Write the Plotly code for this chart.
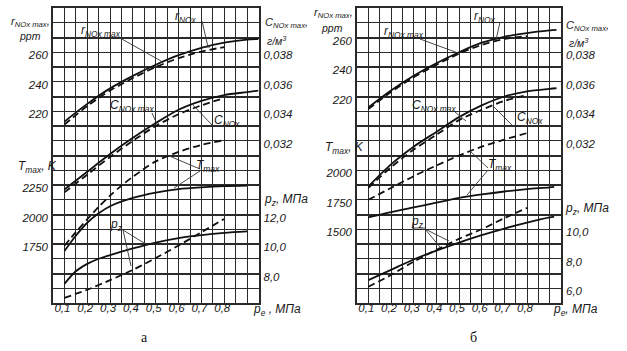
import plotly.graph_objects as go

W, H = 627, 351

# ---------------- data: panel "а" ----------------
pe_a_full = [0.1, 0.2, 0.3, 0.4, 0.5, 0.6, 0.7, 0.8, 0.9, 0.95]
pe_a_short = [0.1, 0.2, 0.3, 0.4, 0.5, 0.6, 0.7, 0.8]
r_a_max = [213, 225, 235.5, 244, 251.5, 258, 263, 266.5, 268.5, 269]
r_a = [211, 223.5, 234, 242.5, 250, 256, 260.5, 263.5]
c_a_max = [0.0287, 0.0299, 0.0311, 0.0322, 0.0332, 0.0341, 0.0347, 0.0351, 0.0353, 0.0354]
c_a = [0.0285, 0.0297, 0.0309, 0.0320, 0.0330, 0.0338, 0.0344, 0.0349]
pe_a_t_solid = [0.1, 0.15, 0.2, 0.25, 0.3, 0.4, 0.5, 0.6, 0.7, 0.8, 0.9]
t_a_solid = [1690, 1820, 1930, 2010, 2070, 2140, 2185, 2215, 2230, 2240, 2245]
pe_a_t_dash = [0.1, 0.15, 0.2, 0.25, 0.3, 0.35, 0.4, 0.5, 0.6, 0.7, 0.8]
t_a_dash = [1735, 1850, 1960, 2065, 2160, 2245, 2320, 2450, 2530, 2590, 2630]
pe_a_pz_solid = [0.1, 0.15, 0.2, 0.25, 0.3, 0.4, 0.5, 0.6, 0.7, 0.8, 0.9]
pz_a_solid = [7.3, 8.15, 8.65, 9.0, 9.25, 9.7, 10.1, 10.4, 10.6, 10.75, 10.85]
pz_a_dash = [6.35, 6.9, 7.55, 8.25, 9.05, 9.9, 10.8, 11.7]

# ---------------- data: panel "б" ----------------
pe_b_full = [0.1, 0.2, 0.3, 0.4, 0.5, 0.6, 0.7, 0.8, 0.9, 0.93]
pe_b_short = [0.1, 0.2, 0.3, 0.4, 0.5, 0.6, 0.7, 0.8]
r_b_max = [212.5, 224, 234, 242.5, 250, 256.5, 260.5, 263, 264.8, 265.2]
r_b = [211.5, 223, 233, 241.5, 249, 255, 259, 261]
c_b_max = [0.0289, 0.0304, 0.0316, 0.0326, 0.0336, 0.0344, 0.0350, 0.03535, 0.03552, 0.03556]
c_b = [0.0288, 0.0302, 0.0314, 0.0324, 0.0334, 0.0341, 0.0347, 0.0351]
pe_b_t = [0.1, 0.2, 0.3, 0.4, 0.5, 0.6, 0.7, 0.8, 0.9, 0.92]
t_b_solid = [1600, 1645, 1685, 1725, 1765, 1795, 1820, 1840, 1855, 1860]
t_b_dash = [1750, 1850, 1950, 2040, 2125, 2200, 2260, 2315]
pz_b_solid = [6.55, 7.25, 7.95, 8.55, 9.1, 9.6, 10.05, 10.45, 10.8, 10.85]
pz_b_dash = [6.1, 6.9, 7.8, 8.6, 9.35, 10.0, 10.75, 11.45]

# ---------------- tick labels ----------------
pe_ticks = [0.1, 0.2, 0.3, 0.4, 0.5, 0.6, 0.7, 0.8]
pe_text = ["0,1", "0,2", "0,3", "0,4", "0,5", "0,6", "0,7", "0,8"]
r_ticks = [220, 240, 260]
c_ticks = [0.032, 0.034, 0.036, 0.038]
c_text = ["0,032", "0,034", "0,036", "0,038"]
t_ticks_a = [1750, 2000, 2250]
t_ticks_b = [1500, 1750, 2000]
pz_ticks_a = [8, 10, 12]
pz_text_a = ["8,0", "10,0", "12,0"]
pz_ticks_b = [6, 8, 10]
pz_text_b = ["6,0", "8,0", "10,0"]

FAM = "Liberation Sans, Arial, sans-serif"
TFONT = dict(family=FAM, size=11.5, color="#1a1a1a", style="italic")
LFONT = dict(family=FAM, size=12, color="#1a1a1a", style="italic")
HFONT = dict(family=FAM, size=11, color="#1a1a1a", style="italic")
SFONT = dict(family=FAM, size=10.5, color="#1a1a1a", style="italic")
GRIDC = "#2a2a2a"
INK = "#111111"


def px(x):
    return x / W


def py(y):
    return 1 - y / H


XD_A = [px(53), px(258.5)]
XD_B = [px(357), px(561)]
YD = [py(303), py(8)]

fig = go.Figure()


def add(x, y, xa, ya, dash):
    fig.add_trace(go.Scatter(
        x=x, y=y, xaxis=xa, yaxis=ya, mode="lines", showlegend=False, hoverinfo="skip",
        line=dict(color=INK, width=1.8, shape="spline", smoothing=0.8,
                  dash="7px,4px" if dash else "solid")))


# panel a
add(pe_a_full, r_a_max, "x", "y", False)
add(pe_a_short, r_a, "x", "y", True)
add(pe_a_full, c_a_max, "x", "y2", False)
add(pe_a_short, c_a, "x", "y2", True)
add(pe_a_t_solid, t_a_solid, "x", "y3", False)
add(pe_a_t_dash, t_a_dash, "x", "y3", True)
add(pe_a_pz_solid, pz_a_solid, "x", "y4", False)
add(pe_a_short, pz_a_dash, "x", "y4", True)
# panel b
add(pe_b_full, r_b_max, "x2", "y6", False)
add(pe_b_short, r_b, "x2", "y6", True)
add(pe_b_full, c_b_max, "x2", "y7", False)
add(pe_b_short, c_b, "x2", "y7", True)
add(pe_b_t, t_b_solid, "x2", "y8", False)
add(pe_b_short, t_b_dash, "x2", "y8", True)
add(pe_b_t, pz_b_solid, "x2", "y9", False)
add(pe_b_short, pz_b_dash, "x2", "y9", True)
# grid-axis placeholders
for xa, ya in (("x", "y5"), ("x2", "y10")):
    fig.add_trace(go.Scatter(x=[None], y=[None], xaxis=xa, yaxis=ya, showlegend=False,
                             hoverinfo="skip", mode="lines"))

minor_x = [round(0.05 + 0.05 * i, 2) for i in range(19)]


def xaxis(domain, anchor):
    return dict(domain=domain, anchor=anchor, range=[0.05, 0.95], tickmode="array",
                tickvals=pe_ticks, ticktext=pe_text, tickfont=TFONT, ticks="",
                showgrid=True, gridcolor=GRIDC, gridwidth=1,
                minor=dict(tickvals=minor_x, showgrid=True, gridcolor=GRIDC, gridwidth=1, ticks=""),
                showline=True, mirror=True, linecolor=GRIDC, linewidth=1.5,
                zeroline=False, fixedrange=True, ticklabelstandoff=-7, ticklabelshift=-2)


def yaxis(rng, vals, text, side, anchor, overlay=None):
    d = dict(range=rng, tickmode="array", tickvals=vals, ticktext=text, side=side,
             anchor=anchor, tickfont=TFONT, ticks="", showgrid=False, zeroline=False,
             showline=False, fixedrange=True, ticklabelstandoff=4, ticklabelshift=3)
    if overlay:
        d["overlaying"] = overlay
    else:
        d["domain"] = YD
    return d


def gridaxis(anchor, overlay):
    return dict(range=[0, 20], overlaying=overlay, anchor=anchor, side="left",
                tickmode="linear", tick0=0, dtick=2, showticklabels=False, ticks="",
                showgrid=True, gridcolor=GRIDC, gridwidth=1.6,
                minor=dict(tickmode="linear", tick0=0, dtick=1, showgrid=True,
                           gridcolor=GRIDC, gridwidth=1, ticks=""),
                showline=True, mirror=True, linecolor=GRIDC, linewidth=1.5,
                zeroline=False, fixedrange=True)


fig.update_layout(
    width=W, height=H, autosize=False,
    margin=dict(l=0, r=0, t=0, b=0),
    paper_bgcolor="white", plot_bgcolor="white",
    xaxis=xaxis(XD_A, "y"),
    xaxis2=xaxis(XD_B, "y6"),
    yaxis=yaxis([90, 290], r_ticks, [str(v) for v in r_ticks], "left", "x"),
    yaxis2=yaxis([0.021, 0.041], c_ticks, c_text, "right", "x", "y"),
    yaxis3=yaxis([1250, 3750], t_ticks_a, [str(v) for v in t_ticks_a], "left", "x", "y"),
    yaxis4=yaxis([6, 26], pz_ticks_a, pz_text_a, "right", "x", "y"),
    yaxis5=gridaxis("x", "y"),
    yaxis6=yaxis([80, 280], r_ticks, [str(v) for v in r_ticks], "left", "x2"),
    yaxis7=yaxis([0.021, 0.041], c_ticks, c_text, "right", "x2", "y6"),
    yaxis8=yaxis([875, 3375], t_ticks_b, [str(v) for v in t_ticks_b], "left", "x2", "y6"),
    yaxis9=yaxis([5, 25], pz_ticks_b, pz_text_b, "right", "x2", "y6"),
    yaxis10=gridaxis("x2", "y6"),
)

ann = []


def label(text, x, y, xanchor="center", font=LFONT):
    ann.append(dict(text=text, x=px(x), y=py(y), xref="paper", yref="paper",
                    xanchor=xanchor, yanchor="middle", showarrow=False, font=font))


# axis titles, panel a
label("r<sub>NOx max</sub>,", 9, 22, "left", HFONT)
label("ppm", 17, 36, "left", SFONT)
label("T<sub>max</sub>, K", 16, 167, "left")
label("C<sub>NOx max</sub>,", 263, 23, "left", HFONT)
label("г/м<sup>3</sup>", 265, 40, "left", SFONT)
label("p<sub>z</sub>, МПа", 262, 200, "left")
label("p<sub>e</sub> , МПа", 251, 310, "left")
# axis titles, panel b
label("r<sub>NOx max</sub>,", 312, 13, "left", HFONT)
label("ppm", 319, 28, "left", SFONT)
label("T<sub>max</sub>, K", 323, 148, "left")
label("C<sub>NOx max</sub>,", 564, 26, "left", HFONT)
label("г/м<sup>3</sup>", 567, 42, "left", SFONT)
label("p<sub>z</sub>, МПа", 563, 209, "left")
label("p<sub>e</sub>, МПа", 551, 310, "left")
# panel letters
PFONT = dict(family="Liberation Serif, Times New Roman, serif", size=14, color="#111")
label("а", 144, 337, font=PFONT)
label("б", 473, 337, font=PFONT)

# curve labels
label("r<sub>NOx max</sub>", 101, 31)
label("r<sub>NOx</sub>", 186, 17)
label("C<sub>NOx max</sub>", 132, 106)
label("C<sub>NOx</sub>", 227, 121)
label("T<sub>max</sub>", 208, 166)
label("p<sub>z</sub>", 116, 225)
label("r<sub>NOx max</sub>", 404, 32)
label("r<sub>NOx</sub>", 485, 17)
label("C<sub>NOx max</sub>", 434, 106)
label("C<sub>NOx</sub>", 530, 118)
label("T<sub>max</sub>", 500, 165)
label("p<sub>z</sub>", 417, 222)

fig.update_layout(annotations=ann)

leaders = [
    ((120, 38), (161, 61)),
    ((202, 21), (208, 47)), ((203, 47), (210, 47)),
    ((152, 113), (157, 124)),
    ((213, 126), (192, 104)),
    ((200, 169), (167, 155)), ((200, 171), (174, 188)),
    ((123, 230), (144, 243)), ((123, 230), (131, 266)),
    ((420, 39), (458, 53)),
    ((500, 22), (496, 40)),
    ((455, 112), (466, 121)),
    ((513, 126), (493, 106)),
    ((488, 168), (470, 151)), ((488, 170), (467, 195)),
    ((412, 228), (425, 228)), ((425, 229), (449, 241)), ((425, 229), (440, 247)),
]
shapes = []
for (x0, y0), (x1, y1) in leaders:
    shapes.append(dict(type="line", xref="paper", yref="paper",
                       x0=px(x0), y0=py(y0), x1=px(x1), y1=py(y1),
                       line=dict(color="#333", width=0.9)))
fig.update_layout(shapes=shapes)

fig.write_html("out.html", config={"displayModeBar": False},
               post_script="document.body.style.margin='0';")
